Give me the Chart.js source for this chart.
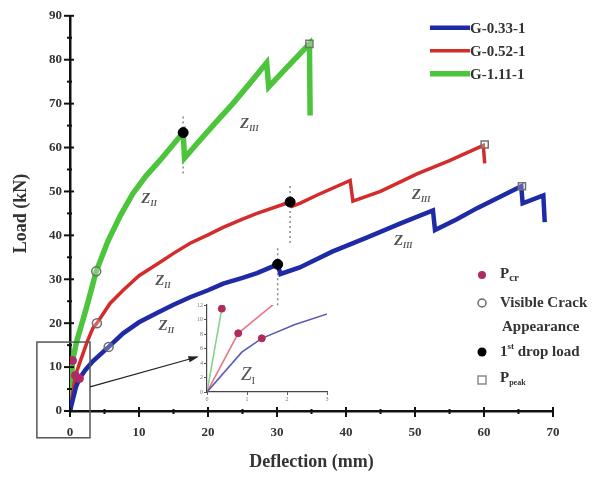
<!DOCTYPE html>
<html><head><meta charset="utf-8">
<script src="https://cdn.jsdelivr.net/npm/chart.js@4.4.0/dist/chart.umd.min.js"></script>
<style>
html,body{margin:0;padding:0;background:#fff;}
#wrap{position:relative;width:608px;height:477px;background:#fff;}
#main{position:absolute;left:0;top:0;}
#inset{position:absolute;left:180px;top:293px;}
</style></head><body>
<div id="wrap"><canvas id="main" width="608" height="477"></canvas><canvas id="inset" width="160" height="115"></canvas></div>
<script>
// ---- data ----
const seriesNames = ['G-0.33-1', 'G-0.52-1', 'G-1.11-1'];
const blueX = [0, 0.87, 1.37, 2.2, 3.3, 5.6, 7.7, 10, 12.6, 15, 17.4, 20, 22.2, 25, 27.1, 30.1, 30.5, 33.3, 38, 43, 48, 52.6, 52.9, 56, 59, 65.4, 65.6, 68.6, 68.8];
const blueY = [0, 5.5, 7.4, 9.3, 11.3, 14.6, 17.7, 20.2, 22.3, 24.2, 25.9, 27.5, 29, 30.3, 31.4, 33.4, 31.2, 32.7, 36.3, 39.5, 42.8, 45.7, 41.2, 43.6, 46.2, 51.2, 47.3, 49.1, 43];
const redX = [0, 0.78, 1.6, 2.5, 3.3, 3.9, 5.8, 7.7, 10, 12.6, 15, 17.4, 20, 22.2, 25, 27.1, 31.9, 32.2, 33.3, 36, 40.6, 41, 45, 50.3, 55, 59.9, 60.1];
const redY = [0, 8.1, 11.8, 15.8, 18.8, 20, 24.5, 27.5, 30.8, 33.4, 35.9, 38.2, 40.1, 41.8, 43.7, 45, 47.6, 46.6, 47.3, 49.3, 52.5, 47.8, 50, 54, 57, 60.5, 56.4];
const greenX = [0, 0.37, 1.0, 2.4, 3.8, 5.5, 7.3, 9.1, 11, 13, 16.4, 16.6, 18.8, 21, 23.6, 26, 28.5, 28.8, 31, 34.7, 34.8];
const greenY = [0, 11.5, 16, 23.6, 31.8, 38.7, 44.5, 49.5, 53.5, 57, 63.4, 57.6, 61.6, 65.5, 70, 74.5, 79.3, 73.8, 77.5, 83.6, 67.3];

// markers (order: blue, red, green)
const pcrX = [1.37, 0.78, 0.37];
const pcrY = [7.4, 8.1, 11.5];
const crackX = [5.6, 3.9, 3.8];
const crackY = [14.6, 20, 31.8];
const dropX = [30.1, 31.9, 16.4];
const dropY = [33.4, 47.6, 63.4];
const peakX = [65.5, 60.1, 34.7];
const peakY = [51.2, 60.7, 83.6];

// zone labels
const zoneSub = ['II', 'III', 'II', 'III', 'II', 'III'];
const zoneX = [14, 48.1, 13.5, 50.7, 11.5, 25.8];
const zoneY = [19.5, 38.9, 29.8, 49.5, 48.5, 65.5];

const xTicks = [0, 10, 20, 30, 40, 50, 60, 70];
const yTicks = [0, 10, 20, 30, 40, 50, 60, 70, 80, 90];

// ---- helpers ----
const pts = (xs, ys) => xs.map((x, i) => ({x: x, y: ys[i]}));
const COLORS = ['#1f2aa6', '#d42b2b', '#4cc43c'];
const WIDTHS = [4.5, 3.5, 5.5];
const SERIF = '"Liberation Serif", "DejaVu Serif", serif';

function rich(ctx, parts, x, y) {
  let cx = x;
  for (const p of parts) {
    ctx.font = p.f;
    ctx.fillText(p.t, cx, y + (p.dy || 0));
    cx += ctx.measureText(p.t).width;
  }
}

const lineSets = [[blueX, blueY], [redX, redY], [greenX, greenY]].map((s, i) => ({
  label: seriesNames[i], data: pts(s[0], s[1]), showLine: true, borderColor: COLORS[i],
  backgroundColor: COLORS[i], borderWidth: WIDTHS[i], pointRadius: 0, order: 2,
  borderJoinStyle: 'miter', tension: 0
}));

const markerSets = [
  {label: 'Pcr', data: pts(pcrX, pcrY), pointRadius: 4, pointBackgroundColor: '#b02a6a', pointBorderColor: '#b02a6a', order: 0},
  {label: 'crack', data: pts(crackX, crackY), pointRadius: 4.5, pointBackgroundColor: 'rgba(255,255,255,0.25)', pointBorderColor: '#6a6a6a', pointBorderWidth: 1.5, order: 0},
  {label: 'drop', data: pts(dropX, dropY), pointRadius: 5, pointBackgroundColor: '#000', pointBorderColor: '#000', order: 0},
  {label: 'peak', data: pts(peakX, peakY), pointStyle: 'rect', pointRadius: 5, pointBackgroundColor: 'rgba(255,255,255,0.25)', pointBorderColor: '#707070', pointBorderWidth: 1.5, order: 0}
].map(d => Object.assign({showLine: false}, d));

const decor = {
  id: 'decor',
  beforeDatasetsDraw(chart) {
    const ctx = chart.ctx, xs = chart.scales.x, ys = chart.scales.y;
    ctx.save();
    ctx.strokeStyle = '#8a8a8a'; ctx.lineWidth = 1.5; ctx.setLineDash([2, 3]);
    for (let i = 0; i < dropX.length; i++) {
      const px = xs.getPixelForValue(dropX[i]);
      const py = ys.getPixelForValue(dropY[i]);
      ctx.beginPath(); ctx.moveTo(px, py - 16); ctx.lineTo(px, py + 44); ctx.stroke();
    }
    ctx.restore();
  },
  afterDraw(chart) {
    const ctx = chart.ctx, xs = chart.scales.x, ys = chart.scales.y, a = chart.chartArea;
    ctx.save();
    // axes ticks
    ctx.strokeStyle = '#111'; ctx.lineWidth = 2;
    for (let v = 0; v <= 70; v += 5) {
      const px = xs.getPixelForValue(v), major = v % 10 === 0;
      ctx.beginPath(); ctx.moveTo(px, a.bottom - (major ? 4 : 2)); ctx.lineTo(px, a.bottom + (major ? 6 : 3)); ctx.stroke();
    }
    for (let v = 0; v <= 90; v += 5) {
      const py = ys.getPixelForValue(v), major = v % 10 === 0;
      ctx.beginPath(); ctx.moveTo(a.left - (major ? 6 : 3), py); ctx.lineTo(a.left + (major ? 4 : 2), py); ctx.stroke();
    }
    // zoom box
    ctx.strokeStyle = '#555'; ctx.lineWidth = 1.5;
    const bx0 = xs.getPixelForValue(-4.8), bx1 = xs.getPixelForValue(2.9);
    const by0 = ys.getPixelForValue(15.7), by1 = ys.getPixelForValue(-6.1);
    ctx.strokeRect(bx0, by0, bx1 - bx0, by1 - by0);
    // arrow
    const ax0 = xs.getPixelForValue(2.9), ay0 = ys.getPixelForValue(5.5);
    const ax1 = xs.getPixelForValue(18.4), ay1 = ys.getPixelForValue(12.3);
    ctx.strokeStyle = '#222'; ctx.fillStyle = '#222'; ctx.lineWidth = 1.2;
    ctx.beginPath(); ctx.moveTo(ax0, ay0); ctx.lineTo(ax1, ay1); ctx.stroke();
    const ang = Math.atan2(ay1 - ay0, ax1 - ax0);
    ctx.beginPath(); ctx.moveTo(ax1 + 2, ay1 - 0.5);
    ctx.lineTo(ax1 - 9 * Math.cos(ang - 0.35), ay1 - 9 * Math.sin(ang - 0.35));
    ctx.lineTo(ax1 - 9 * Math.cos(ang + 0.35), ay1 - 9 * Math.sin(ang + 0.35));
    ctx.closePath(); ctx.fill();
    // zone labels
    ctx.fillStyle = '#555'; ctx.textBaseline = 'alphabetic';
    for (let i = 0; i < zoneSub.length; i++) {
      const px = xs.getPixelForValue(zoneX[i]), py = ys.getPixelForValue(zoneY[i]);
      rich(ctx, [{t: 'Z', f: 'italic bold 15px ' + SERIF}, {t: zoneSub[i], f: 'italic bold 8px ' + SERIF, dy: 3}], px - 8, py + 5);
    }
    // series legend
    ctx.textBaseline = 'middle';
    const lx = a.right - 123, ly = a.top + 12;
    for (let i = 0; i < 3; i++) {
      const y = ly + i * 23;
      ctx.strokeStyle = COLORS[i]; ctx.lineWidth = WIDTHS[i];
      ctx.beginPath(); ctx.moveTo(lx, y); ctx.lineTo(lx + 40, y); ctx.stroke();
      ctx.fillStyle = '#333'; ctx.font = 'bold 15px ' + SERIF;
      ctx.fillText(seriesNames[i], lx + 40, y + 1);
    }
    // marker legend
    const mx = a.right - 71, tx = a.right - 53;
    ctx.fillStyle = '#b02a6a';
    ctx.beginPath(); ctx.arc(mx, 275, 4, 0, Math.PI * 2); ctx.fill();
    ctx.strokeStyle = '#6a6a6a'; ctx.lineWidth = 1.5;
    ctx.beginPath(); ctx.arc(mx, 303, 4, 0, Math.PI * 2); ctx.stroke();
    ctx.fillStyle = '#000';
    ctx.beginPath(); ctx.arc(mx, 352, 4.5, 0, Math.PI * 2); ctx.fill();
    ctx.strokeStyle = '#8a8a8a';
    ctx.strokeRect(mx - 4, 376, 8, 8);
    ctx.fillStyle = '#333';
    const B = 'bold 15px ' + SERIF, S = 'bold 9px ' + SERIF;
    rich(ctx, [{t: 'P', f: B}, {t: 'cr', f: 'bold 11px ' + SERIF, dy: 4}], tx, 274);
    rich(ctx, [{t: 'Visible Crack', f: B}], tx, 303);
    rich(ctx, [{t: 'Appearance', f: B}], tx + 2, 327);
    rich(ctx, [{t: '1', f: B}, {t: 'st', f: S, dy: -5}, {t: ' drop load', f: B}], tx, 352);
    rich(ctx, [{t: 'P', f: B}, {t: 'peak', f: 'bold 8px ' + SERIF, dy: 5}], tx, 378);
    ctx.restore();
  }
};

new Chart(document.getElementById('main'), {
  type: 'scatter',
  data: {datasets: markerSets.concat(lineSets)},
  options: {
    responsive: false, animation: false, devicePixelRatio: 1,
    layout: {padding: {top: 15, right: 55, left: 0, bottom: 0}},
    plugins: {legend: {display: false}, tooltip: {enabled: false}},
    scales: {
      x: {
        type: 'linear', min: 0, max: 70,
        afterFit: s => { s.height = 66; },
        afterBuildTicks: s => { s.ticks = xTicks.map(v => ({value: v})); },
        grid: {display: false, drawTicks: false},
        border: {display: true, color: '#111', width: 2.5},
        ticks: {padding: 14, color: '#333', font: {family: SERIF, size: 13, weight: 'bold'}, maxRotation: 0},
        title: {display: true, text: 'Deflection (mm)', color: '#333', padding: {bottom: 4, top: 0}, font: {family: SERIF, size: 18, weight: 'bold'}}
      },
      y: {
        type: 'linear', min: 0, max: 90,
        afterFit: s => { s.width = 70; },
        afterBuildTicks: s => { s.ticks = yTicks.map(v => ({value: v})); },
        grid: {display: false, drawTicks: false},
        border: {display: true, color: '#111', width: 2.5},
        ticks: {padding: 8, color: '#333', font: {family: SERIF, size: 13, weight: 'bold'}},
        title: {display: true, text: 'Load (kN)', color: '#333', padding: {top: 11, bottom: 0}, font: {family: SERIF, size: 18, weight: 'bold'}}
      }
    }
  },
  plugins: [decor]
});

// ---- inset ----
const INSET_COLORS = ['#5a5ab8', '#e8788a', '#86d486'];
const insetLines = [[blueX, blueY], [redX, redY], [greenX, greenY]].map((s, i) => ({
  data: pts(s[0], s[1]), showLine: true, borderColor: INSET_COLORS[i], borderWidth: 1.6, pointRadius: 0, order: 2
}));
const insetDecor = {
  id: 'insetDecor',
  afterDraw(chart) {
    const ctx = chart.ctx, xs = chart.scales.x, ys = chart.scales.y;
    ctx.save(); ctx.fillStyle = '#555';
    rich(ctx, [{t: 'Z', f: 'italic 19px ' + SERIF}, {t: 'I', f: '11px ' + SERIF, dy: 4}], xs.getPixelForValue(0.85), ys.getPixelForValue(1.6));
    ctx.restore();
  }
};
new Chart(document.getElementById('inset'), {
  type: 'scatter',
  data: {datasets: [{data: pts(pcrX, pcrY), pointRadius: 3.5, pointBackgroundColor: '#b02a5a', pointBorderColor: '#b02a5a', order: 0}].concat(insetLines)},
  options: {
    responsive: false, animation: false, devicePixelRatio: 1,
    layout: {padding: {top: 12, right: 13, left: 0, bottom: 0}},
    plugins: {legend: {display: false}, tooltip: {enabled: false}},
    scales: {
      x: {type: 'linear', min: 0, max: 3, afterFit: s => { s.height = 16; },
        grid: {drawOnChartArea: false, tickLength: 3, color: '#555'}, border: {color: '#444', width: 1.2},
        ticks: {stepSize: 1, padding: 1, color: '#777', font: {family: SERIF, size: 6}}},
      y: {type: 'linear', min: 0, max: 12, afterFit: s => { s.width = 27; },
        grid: {drawOnChartArea: false, tickLength: 3, color: '#555'}, border: {color: '#444', width: 1.2},
        ticks: {stepSize: 2, padding: 1, color: '#777', font: {family: SERIF, size: 6}}}
    }
  },
  plugins: [insetDecor]
});
</script>
</body></html>
